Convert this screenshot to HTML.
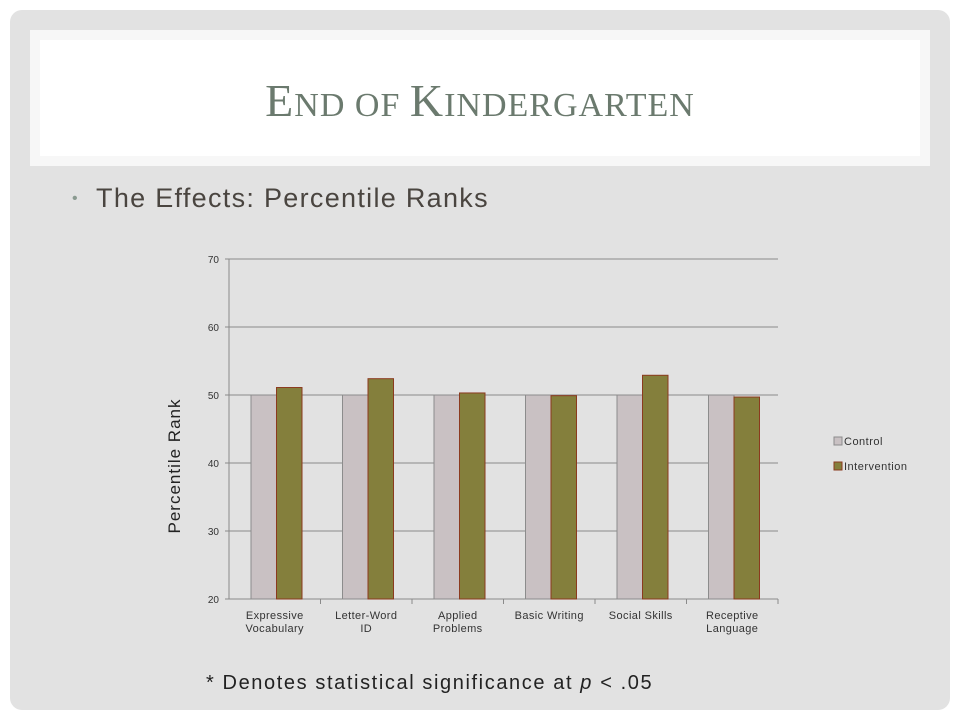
<!DOCTYPE html>
<html><head><meta charset="utf-8"><style>
body{margin:0;width:960px;height:720px;background:#fff;font-family:"Liberation Sans",sans-serif;overflow:hidden}
#slide{position:absolute;left:10px;top:10px;width:940px;height:700px;border-radius:12px;background:#e2e2e2}
#titlebox{position:absolute;left:30px;top:30px;width:900px;height:136px;background:#f7f7f7}
#titleinner{position:absolute;left:40px;top:40px;width:880px;height:116px;background:#fff;text-align:center;line-height:122px;font-family:"Liberation Serif",serif;color:#6b7a6e;font-size:46px;letter-spacing:1px}
#bullet{position:absolute;left:72px;top:183px;font-size:27px;color:#4a4540;letter-spacing:1.3px;white-space:nowrap}
#note{position:absolute;left:206px;top:672px;font-size:20px;color:#222;letter-spacing:1.6px;white-space:nowrap}
svg{position:absolute;left:0;top:0}
</style></head><body>
<div id="slide"></div>
<div id="titlebox"></div>
<div id="titleinner">E<span style="font-size:34px">ND OF </span>K<span style="font-size:34px">INDERGARTEN</span></div>
<div id="bullet"><span style="color:#8a9a90;font-size:16px;vertical-align:4px">•</span>&nbsp; The Effects: Percentile Ranks</div>
<svg id="chart" width="960" height="720"></svg>
<div id="note">* Denotes statistical significance at <i>p</i> &lt; .05</div>
<script>
const categories=[["Expressive","Vocabulary"],["Letter-Word","ID"],["Applied","Problems"],["Basic Writing"],["Social Skills"],["Receptive","Language"]];
const controlValues=[50,50,50,50,50,50];
const interventionValues=[51.1,52.4,50.3,49.9,52.9,49.7];
const yTicks=[20,30,40,50,60,70];
const seriesNames=["Control","Intervention"];
const NS="http://www.w3.org/2000/svg";
const svg=document.getElementById('chart');
const x0=229,x1=778,yTop=259,yBot=599;
const y=v=>yBot-(v-20)/(70-20)*(yBot-yTop);
const band=(x1-x0)/categories.length;
function mk(t,a,txt){const e=document.createElementNS(NS,t);for(const k in a)e.setAttribute(k,a[k]);if(txt!==undefined)e.textContent=txt;svg.appendChild(e);return e;}
yTicks.forEach(t=>{
const l=mk('line',{x1:x0-4,x2:x1,y1:y(t),y2:y(t),stroke:'#8a8a8a','stroke-width':1});


const tx=mk('text',{x:x0-10,y:y(t)+4,'text-anchor':'end','font-size':10,fill:'#333'},t);


});
const ax=mk('line',{x1:x0,x2:x0,y1:yTop,y2:yBot,stroke:'#8a8a8a'});


categories.forEach((c,i)=>{
const bx=x0+i*band+22,bw=25.5;
const r1=mk('rect',{x:bx,y:y(controlValues[i]),width:bw,height:yBot-y(controlValues[i]),fill:'#c9c1c3',stroke:'#8c8c8c'});


const r2=mk('rect',{x:bx+bw,y:y(interventionValues[i]),width:bw,height:yBot-y(interventionValues[i]),fill:'#847f3c',stroke:'#8b3a1e'});


const tk=mk('line',{x1:x0+(i+1)*band,x2:x0+(i+1)*band,y1:yBot,y2:yBot+5,stroke:'#8a8a8a'});


c.forEach((ln,j)=>{
const t=mk('text',{x:x0+(i+.5)*band,y:619+j*13,'text-anchor':'middle','font-size':11,fill:'#333','letter-spacing':0.4},ln);


});
});
const yt=mk('text',{x:180,y:466,'text-anchor':'middle','font-size':17,fill:'#222','letter-spacing':1,transform:'rotate(-90 180 466)'},'Percentile Rank');


[['#c9c1c3','#8c8c8c'],['#847f3c','#8b3a1e']].forEach((c,i)=>{
const r=mk('rect',{x:834,y:437+i*25,width:8,height:8,fill:c[0],stroke:c[1]});


const t=mk('text',{x:844,y:445+i*25,'font-size':11,fill:'#333','letter-spacing':0.5},seriesNames[i]);


});
</script>
</body></html>
